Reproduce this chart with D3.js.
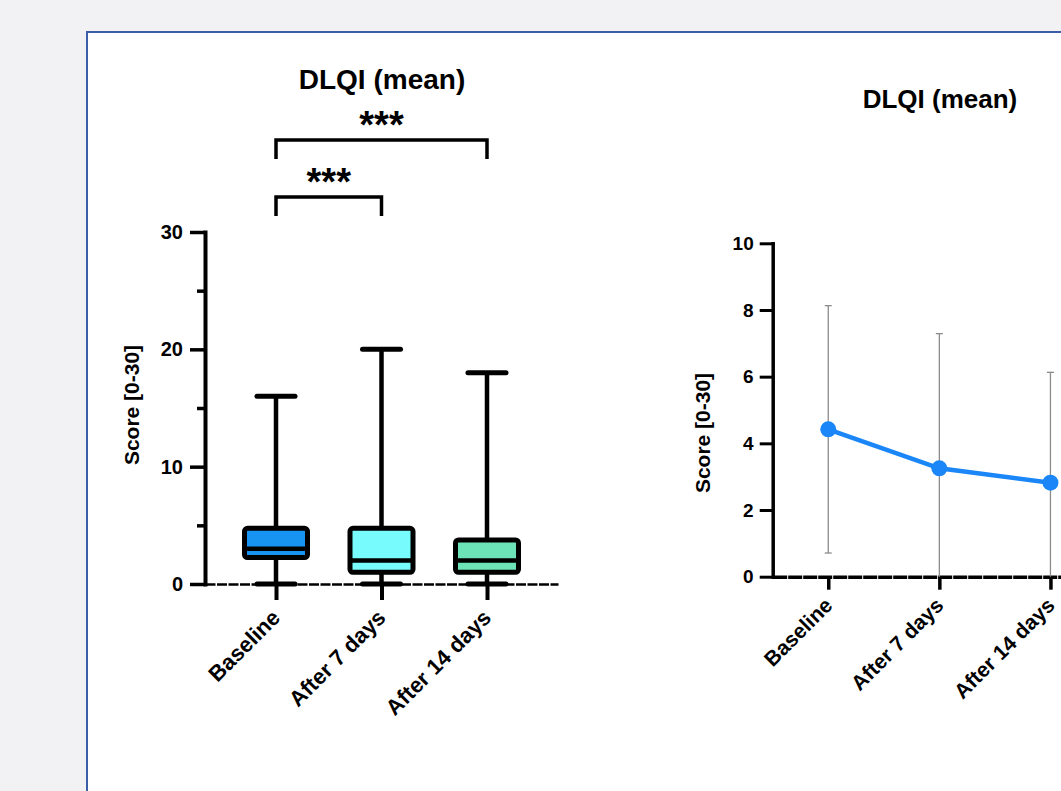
<!DOCTYPE html>
<html>
<head>
<meta charset="utf-8">
<script src="https://cdn.jsdelivr.net/npm/d3@7"></script>
<style>
	body { margin: 0; background: #f2f2f4; overflow: hidden; }
	text { font-family: 'Liberation Sans', Arial, sans-serif; font-weight: bold; fill: #000; }
</style>
</head>
<body>
<div id="chart"></div>
<script>

const categories = ['Baseline', 'After 7 days', 'After 14 days'];

// box plot, whiskers min to max
const boxMin = [0, 0, 0];
const boxQ1 = [2.25, 1, 1];
const boxMedian = [3, 2, 2];
const boxQ3 = [4.75, 4.75, 3.75];
const boxMax = [16, 20, 18];
const boxColors = ['#1793f1', '#78fbfd', '#6de4b8'];

// mean +/- SD
const meanValues = [4.42, 3.25, 2.82];
const sdValues = [3.71, 4.04, 3.31];

const boxTicks = [0, 10, 20, 30];
const boxMinorTicks = [5, 15, 25];
const meanTicks = [0, 2, 4, 6, 8, 10];

const comparisons = [
	{ from: 'Baseline', to: 'After 7 days', label: '***' },
	{ from: 'Baseline', to: 'After 14 days', label: '***' }
];


class BoxPlot {

	constructor(options) {
		this.svg = options.svg;
		this.data = categories.map(function(c, i) {
			return { key: c, min: boxMin[i], q1: boxQ1[i], median: boxMedian[i], q3: boxQ3[i], max: boxMax[i], color: boxColors[i] };
		});
		this.draw();
	}

}

BoxPlot.prototype.draw = function() {

	this.left = 205;
	this.right = 558;
	this.top = 232;
	this.bottom = 584;

	this.xScale = d3.scalePoint()
		.domain(categories)
		.range([this.left, this.right])
		.padding(0.673);

	this.yScale = d3.scaleLinear()
		.domain([0, 30])
		.range([this.bottom, this.top]);

	this.createAxes();
	this.createBoxes();
	this.createBrackets();

	this.svg.append('text')
		.attr('x', 382)
		.attr('y', 89)
		.attr('text-anchor', 'middle')
		.style('font-size', '28px')
		.text('DLQI (mean)');

	this.svg.append('text')
		.attr('transform', 'translate(138.5, 405) rotate(-90)')
		.attr('text-anchor', 'middle')
		.style('font-size', '21px')
		.text('Score [0-30]');
}

BoxPlot.prototype.createAxes = function() {

	let yAxis = this.svg.append('g')
		.attr('transform', `translate(${this.left}, 0)`)
		.call(d3.axisLeft(this.yScale).tickValues(boxTicks).tickSize(15).tickSizeOuter(0).tickPadding(7));

	yAxis.select('.domain').attr('stroke-width', 4).attr('stroke-linecap', 'square');
	yAxis.selectAll('.tick line').attr('stroke-width', 3.5);
	yAxis.selectAll('.tick text').style('font-size', '20px');

	let minor = this.svg.append('g')
		.attr('transform', `translate(${this.left}, 0)`)
		.call(d3.axisLeft(this.yScale).tickValues(boxMinorTicks).tickSize(8).tickFormat(''));

	minor.select('.domain').remove();
	minor.selectAll('.tick line').attr('stroke-width', 3.5);

	let xAxis = this.svg.append('g')
		.attr('transform', `translate(0, ${this.bottom})`)
		.call(d3.axisBottom(this.xScale).tickSize(16).tickSizeOuter(0));

	xAxis.select('.domain').attr('stroke-width', 2.5).attr('stroke-dasharray', '10,1.5');
	xAxis.selectAll('.tick line').attr('stroke-width', 4);
	xAxis.selectAll('.tick text')
		.attr('x', 0)
		.attr('y', 0)
		.attr('dy', null)
		.attr('text-anchor', 'end')
		.attr('transform', 'translate(5, 35) rotate(-45)')
		.style('font-size', '22px');
}

BoxPlot.prototype.createBoxes = function() {

	let that = this;
	let boxWidth = 63;
	let capWidth = 38;

	let boxes = this.svg.selectAll('.box')
		.data(this.data)
		.enter().append('g')
			.attr('class', 'box')
			.attr('transform', function(d) {
				return `translate(${that.xScale(d.key)}, 0)`;
			});

	// whiskers
	boxes.append('line')
		.attr('x1', 0).attr('x2', 0)
		.attr('y1', function(d) { return that.yScale(d.q3); })
		.attr('y2', function(d) { return that.yScale(d.max); })
		.attr('stroke', '#000')
		.attr('stroke-width', 4.5);

	boxes.append('line')
		.attr('x1', 0).attr('x2', 0)
		.attr('y1', function(d) { return that.yScale(d.q1); })
		.attr('y2', function(d) { return that.yScale(d.min); })
		.attr('stroke', '#000')
		.attr('stroke-width', 4.5);

	['min', 'max'].forEach(function(k) {
		boxes.append('line')
			.attr('x1', -capWidth / 2).attr('x2', capWidth / 2)
			.attr('y1', function(d) { return that.yScale(d[k]); })
			.attr('y2', function(d) { return that.yScale(d[k]); })
			.attr('stroke', '#000')
			.attr('stroke-width', 5)
			.attr('stroke-linecap', 'round');
	});

	boxes.append('rect')
		.attr('x', -boxWidth / 2)
		.attr('width', boxWidth)
		.attr('y', function(d) { return that.yScale(d.q3); })
		.attr('height', function(d) { return that.yScale(d.q1) - that.yScale(d.q3); })
		.attr('rx', 3)
		.attr('fill', function(d) { return d.color; })
		.attr('stroke', '#000')
		.attr('stroke-width', 5);

	boxes.append('line')
		.attr('x1', -boxWidth / 2).attr('x2', boxWidth / 2)
		.attr('y1', function(d) { return that.yScale(d.median); })
		.attr('y2', function(d) { return that.yScale(d.median); })
		.attr('stroke', '#000')
		.attr('stroke-width', 4.5);
}

BoxPlot.prototype.createBrackets = function() {

	let that = this;

	comparisons.forEach(function(c, i) {
		let y = that.yScale(30) - 35 - 57 * i;
		let x1 = that.xScale(c.from);
		let x2 = that.xScale(c.to);

		that.svg.append('path')
			.attr('d', `M${x1},${y + 19}V${y}H${x2}V${y + 19}`)
			.attr('fill', 'none')
			.attr('stroke', '#000')
			.attr('stroke-width', 3.5);

		that.svg.append('text')
			.attr('x', (x1 + x2) / 2)
			.attr('y', y - 2)
			.attr('text-anchor', 'middle')
			.style('font-size', '38px')
			.text(c.label);
	});
}


class MeanPlot {

	constructor(options) {
		this.svg = options.svg;
		this.data = categories.map(function(c, i) {
			return { key: c, mean: meanValues[i], sd: sdValues[i] };
		});
		this.draw();
	}

}

MeanPlot.prototype.draw = function() {

	let that = this;

	this.left = 772.7;
	this.bottom = 576.7;

	this.xScale = d3.scalePoint()
		.domain(categories)
		.range([this.left, 1106])
		.padding(0.5);

	this.yScale = d3.scaleLinear()
		.domain([0, 10])
		.range([this.bottom, 243.3])
		.clamp(true);

	let yAxis = this.svg.append('g')
		.attr('transform', `translate(${this.left}, 0)`)
		.call(d3.axisLeft(this.yScale).tickValues(meanTicks).tickSize(13).tickSizeOuter(0).tickPadding(6));

	yAxis.select('.domain').attr('stroke-width', 3.5).attr('stroke-linecap', 'square');
	yAxis.selectAll('.tick line').attr('stroke-width', 3);
	yAxis.selectAll('.tick text').style('font-size', '19px');

	let xAxis = this.svg.append('g')
		.attr('transform', `translate(0, ${this.bottom})`)
		.call(d3.axisBottom(this.xScale).tickSize(13).tickSizeOuter(0));

	xAxis.select('.domain').attr('stroke-width', 3.5).attr('stroke-dasharray', '14,1');
	xAxis.selectAll('.tick line').attr('stroke-width', 3.5);
	xAxis.selectAll('.tick text')
		.attr('x', 0)
		.attr('y', 0)
		.attr('dy', null)
		.attr('text-anchor', 'end')
		.attr('transform', 'translate(5, 30) rotate(-45)')
		.style('font-size', '21px');

	// error bars
	let bars = this.svg.selectAll('.errbar')
		.data(this.data)
		.enter().append('g')
			.attr('class', 'errbar')
			.attr('transform', function(d) {
				return `translate(${that.xScale(d.key)}, 0)`;
			});

	bars.append('line')
		.attr('y1', function(d) { return that.yScale(d.mean - d.sd); })
		.attr('y2', function(d) { return that.yScale(d.mean + d.sd); })
		.attr('stroke', '#8c8c8c')
		.attr('stroke-width', 1.3);

	bars.append('line')
		.attr('x1', -3.5).attr('x2', 3.5)
		.attr('y1', function(d) { return that.yScale(d.mean + d.sd); })
		.attr('y2', function(d) { return that.yScale(d.mean + d.sd); })
		.attr('stroke', '#8c8c8c')
		.attr('stroke-width', 1.3);

	bars.filter(function(d) { return d.mean - d.sd > 0; })
		.append('line')
			.attr('x1', -3.5).attr('x2', 3.5)
			.attr('y1', function(d) { return that.yScale(d.mean - d.sd); })
			.attr('y2', function(d) { return that.yScale(d.mean - d.sd); })
			.attr('stroke', '#8c8c8c')
			.attr('stroke-width', 1.3);

	let line = d3.line()
		.x(function(d) { return that.xScale(d.key); })
		.y(function(d) { return that.yScale(d.mean); });

	this.svg.append('path')
		.datum(this.data)
		.attr('d', line)
		.attr('fill', 'none')
		.attr('stroke', '#1a86f7')
		.attr('stroke-width', 4.5);

	this.svg.selectAll('.dot')
		.data(this.data)
		.enter().append('circle')
			.attr('class', 'dot')
			.attr('cx', function(d) { return that.xScale(d.key); })
			.attr('cy', function(d) { return that.yScale(d.mean); })
			.attr('r', 8)
			.attr('fill', '#1a86f7');

	this.svg.append('text')
		.attr('x', 940)
		.attr('y', 108)
		.attr('text-anchor', 'middle')
		.style('font-size', '26px')
		.text('DLQI (mean)');

	this.svg.append('text')
		.attr('transform', 'translate(710, 433) rotate(-90)')
		.attr('text-anchor', 'middle')
		.style('font-size', '21px')
		.text('Score [0-30]');
}


let svg = d3.select('#chart')
	.append('svg')
		.attr('width', 1061)
		.attr('height', 791);

svg.append('rect')
	.attr('x', 87)
	.attr('y', 32)
	.attr('width', 1100)
	.attr('height', 900)
	.attr('fill', '#fff')
	.attr('stroke', '#3c5ea6')
	.attr('stroke-width', 2);

new BoxPlot({ svg: svg });
new MeanPlot({ svg: svg });

</script>
</body>
</html>
